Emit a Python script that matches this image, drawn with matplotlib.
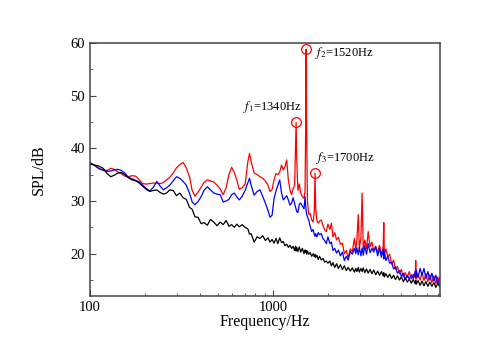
import matplotlib
matplotlib.use("Agg")
import matplotlib.pyplot as plt
from matplotlib.ticker import FixedLocator, FixedFormatter, NullFormatter, LogLocator, MultipleLocator

# spectrum sample frequencies (Hz)
freq = [100, 106, 112, 118, 124, 130, 136, 142, 148, 155, 162, 170, 178, 186, 194,
        203, 212, 222, 232, 242, 252, 262, 273, 285, 297, 310, 323, 336, 350, 362,
        375, 390, 405, 420, 438, 456, 475, 495, 515, 535, 555, 575, 595, 615, 635,
        655, 680, 705, 730, 745, 760, 790, 820, 850, 880, 910, 940, 965, 990, 1015,
        1040, 1065, 1090, 1115, 1140, 1165, 1190, 1215, 1240, 1265, 1290, 1315, 1330,
        1340, 1350, 1370, 1395, 1420, 1450, 1480, 1500, 1512, 1520, 1528, 1545, 1570,
        1600, 1630, 1660, 1685, 1700, 1715, 1740, 1770, 1800, 1840, 1880, 1920, 1960,
        2000, 2050, 2090, 2130, 2180, 2230, 2280, 2340, 2400, 2460, 2520, 2580, 2650,
        2720, 2790, 2840, 2880, 2930, 2970, 3030, 3075, 3120, 3180, 3250, 3320, 3400,
        3480, 3560, 3650, 3740, 3830, 3920, 4010, 4040, 4070, 4150, 4250, 4350, 4460,
        4570, 4680, 4800, 4920, 5040, 5170, 5300, 5430, 5570, 5710, 5850, 6000, 6040,
        6080, 6220, 6380, 6540, 6700, 6870, 7040, 7220, 7400, 7590, 7780, 7980, 8180]

spl_red = [37.3, 36.8, 36.2, 35.9, 35.8, 36.2, 36.0, 35.5, 35.2, 34.7, 34.6, 34.8, 34.7, 34.0, 33.3,
           33.2, 33.3, 33.4, 33.4, 33.3, 33.5, 34.0, 34.5, 35.3, 36.3, 36.9, 37.3, 36.3, 34.6, 32.0,
           30.9, 31.7, 32.6, 33.5, 34.0, 33.8, 33.6, 33.0, 32.3, 31.2, 32.5, 35.0, 36.4, 35.4, 34.0,
           32.2, 32.5, 33.2, 37.5, 39.0, 37.5, 35.3, 35.0, 34.6, 34.3, 33.8, 33.0, 31.8, 32.2, 34.0,
           35.2, 35.0, 35.5, 36.8, 35.9, 36.5, 37.8, 34.0, 32.1, 31.2, 32.3, 33.0, 40.0,
           44.9, 38.0, 32.0, 33.2, 31.5, 30.8, 30.5, 32.0, 45.0, 58.8, 45.0, 30.0, 27.5,
           27.6, 26.4, 26.0, 28.0, 35.3, 28.5, 26.3, 25.8, 26.2, 26.4, 25.3, 24.5, 24.2,
           25.6, 24.6, 25.8, 23.2, 24.0, 22.6, 23.1, 21.8, 22.0, 20.0, 20.6, 19.2, 20.9,
           20.4, 22.9, 20.7, 22.6, 27.4, 21.0, 23.0, 31.5, 20.8, 22.6, 21.0, 24.2, 21.3,
           22.2, 20.6, 21.4, 20.3, 21.6, 19.8, 21.3, 25.9, 19.9, 20.9, 19.4, 19.9, 18.0,
           18.8, 17.0, 17.6, 16.2, 17.0, 15.6, 16.4, 15.5, 16.6, 15.2, 16.1, 15.4, 18.7,
           15.2, 16.0, 15.0, 16.4, 14.9, 16.2, 14.7, 16.0, 14.5, 15.8, 14.3, 15.6, 14.0]

spl_blue = [37.2, 36.7, 36.1, 35.8, 35.6, 35.7, 35.9, 36.0, 35.8, 35.3, 34.5, 34.2, 33.9, 33.6, 33.0,
            32.4, 31.9, 32.6, 33.7, 32.8, 32.1, 32.5, 33.0, 33.8, 34.6, 34.3, 33.7, 33.0, 31.5, 29.8,
            29.3, 29.9, 30.8, 32.0, 32.7, 32.1, 31.5, 31.3, 31.2, 29.8, 30.0, 30.3, 31.2, 31.5, 30.8,
            30.2, 30.9, 32.0, 33.5, 34.3, 33.0, 31.1, 31.8, 32.1, 30.8, 29.6, 28.2, 26.9, 27.3, 30.5,
            31.9, 33.0, 34.0, 31.5, 30.2, 30.6, 31.0, 30.2, 29.2, 29.6, 30.6, 29.5, 28.8,
            28.4, 28.0, 27.8, 29.4, 29.6, 29.0, 28.5, 30.8, 29.0, 28.2, 27.5, 27.0, 26.4,
            25.2, 24.2, 24.6, 23.6, 23.3, 23.8, 23.2, 24.0, 23.6, 23.8, 22.8, 22.5, 21.9,
            23.2, 21.9, 22.2, 20.6, 21.0, 20.1, 20.7, 19.6, 20.3, 18.7, 19.5, 18.8, 20.4,
            19.9, 21.0, 20.0, 21.1, 19.8, 21.2, 19.6, 21.1, 19.7, 21.5, 19.9, 21.9, 20.2,
            21.0, 20.3, 21.3, 19.6, 21.0, 19.3, 20.9, 19.0, 20.5, 18.7, 19.5, 18.2, 18.4,
            17.1, 17.5, 16.3, 16.8, 15.7, 16.3, 15.1, 15.9, 15.2, 16.0, 15.3, 16.6, 15.4,
            16.9, 15.5, 17.2, 15.9, 17.2, 15.3, 16.6, 15.0, 16.3, 14.8, 15.9, 14.3, 15.4]

spl_black = [37.0, 36.8, 36.6, 36.2, 35.2, 34.6, 34.9, 35.3, 35.4, 35.0, 34.4, 34.0, 33.8, 33.4, 32.8,
             32.2, 31.8, 32.0, 32.1, 31.6, 31.3, 31.5, 32.1, 32.0, 31.0, 31.5, 30.6, 30.3, 28.8, 28.4,
             27.0, 26.9, 25.7, 25.9, 25.4, 26.5, 26.0, 25.3, 26.0, 25.5, 26.3, 25.2, 25.5, 25.0, 25.6,
             25.1, 25.5, 25.0, 24.7, 23.7, 23.8, 22.2, 23.2, 22.9, 23.4, 22.5, 23.0, 22.2, 22.7, 22.0,
             22.9, 21.9, 23.0, 22.1, 22.3, 21.5, 21.8, 21.2, 21.6, 21.0, 21.4, 20.6, 21.4,
             20.5, 21.2, 20.4, 21.3, 20.3, 21.0, 20.0, 20.7, 20.3, 20.6, 19.9, 20.5, 19.9,
             20.2, 19.5, 20.0, 19.4, 19.9, 19.3, 19.7, 18.9, 19.5, 18.8, 19.1, 18.4, 18.6,
             18.2, 18.6, 17.7, 18.3, 17.4, 18.1, 17.2, 17.9, 17.0, 17.7, 16.8, 17.4, 16.7,
             17.3, 16.5, 17.2, 16.6, 17.4, 16.5, 17.2, 16.6, 17.3, 16.4, 17.1, 16.3, 17.0,
             16.2, 16.9, 16.0, 16.7, 15.9, 16.6, 15.8, 16.4, 15.6, 16.2, 15.5, 16.1, 15.3,
             15.9, 15.1, 15.8, 15.0, 15.6, 14.7, 15.4, 14.6, 15.2, 14.4, 15.1, 14.3, 15.0,
             14.2, 14.9, 14.0, 14.8, 13.9, 14.7, 13.8, 14.6, 13.8, 14.5, 13.6, 14.4, 13.7]

# marked peaks
peak_f = [1340, 1520, 1700]
peak_spl = [44.9, 58.8, 35.3]
peak_labels = ["$f_1$=1340Hz", "$f_2$=1520Hz", "$f_3$=1700Hz"]

plt.rcParams['font.family'] = ['Liberation Serif', 'DejaVu Serif']
plt.rcParams['mathtext.fontset'] = 'stix'

fig = plt.figure(figsize=(5.0, 3.63), dpi=100)
ax = fig.add_axes([0.18, 0.185, 0.70, 0.697])

ax.plot(freq, spl_red, color='#ff0000', lw=0.9)
ax.plot(freq, spl_blue, color='#0000ff', lw=0.9)
ax.plot(freq, spl_black, color='black', lw=0.9)

ax.plot(peak_f, peak_spl, 'o', ms=7, mfc='none', mec='#ff0000', mew=0.9)
ax.annotate(peak_labels[0], (peak_f[0], peak_spl[0]), xytext=(4, 5),
            textcoords='offset points', ha='right', va='bottom', fontsize=9)
ax.annotate(peak_labels[1], (peak_f[1], peak_spl[1]), xytext=(6.5, -3),
            textcoords='offset points', ha='left', va='center', fontsize=9)
ax.annotate(peak_labels[2], (peak_f[2], peak_spl[2]), xytext=(1, 11),
            textcoords='offset points', ha='left', va='center', fontsize=9)

ax.set_xscale('log')
ax.set_xlim(100, 8200)
ax.set_ylim(12, 60)
ax.xaxis.set_major_locator(FixedLocator([100, 1000]))
ax.xaxis.set_major_formatter(FixedFormatter(['100', '1000']))
ax.xaxis.set_minor_locator(LogLocator(base=10, subs=range(2, 10)))
ax.xaxis.set_minor_formatter(NullFormatter())
ax.yaxis.set_major_locator(MultipleLocator(10))
ax.yaxis.set_minor_locator(MultipleLocator(5))

ax.tick_params(which='both', direction='in', labelsize=10.5, color='#444444')
ax.tick_params(which='major', length=4)
ax.tick_params(which='minor', length=2.5)
for s in ax.spines.values():
    s.set_color('#444444')
    s.set_linewidth(1.1)

ax.set_xlabel('Frequency/Hz', fontsize=11.5, labelpad=0)
ax.set_ylabel('SPL/dB', fontsize=11.5, labelpad=17)

fig.savefig('out.png', dpi=100)
